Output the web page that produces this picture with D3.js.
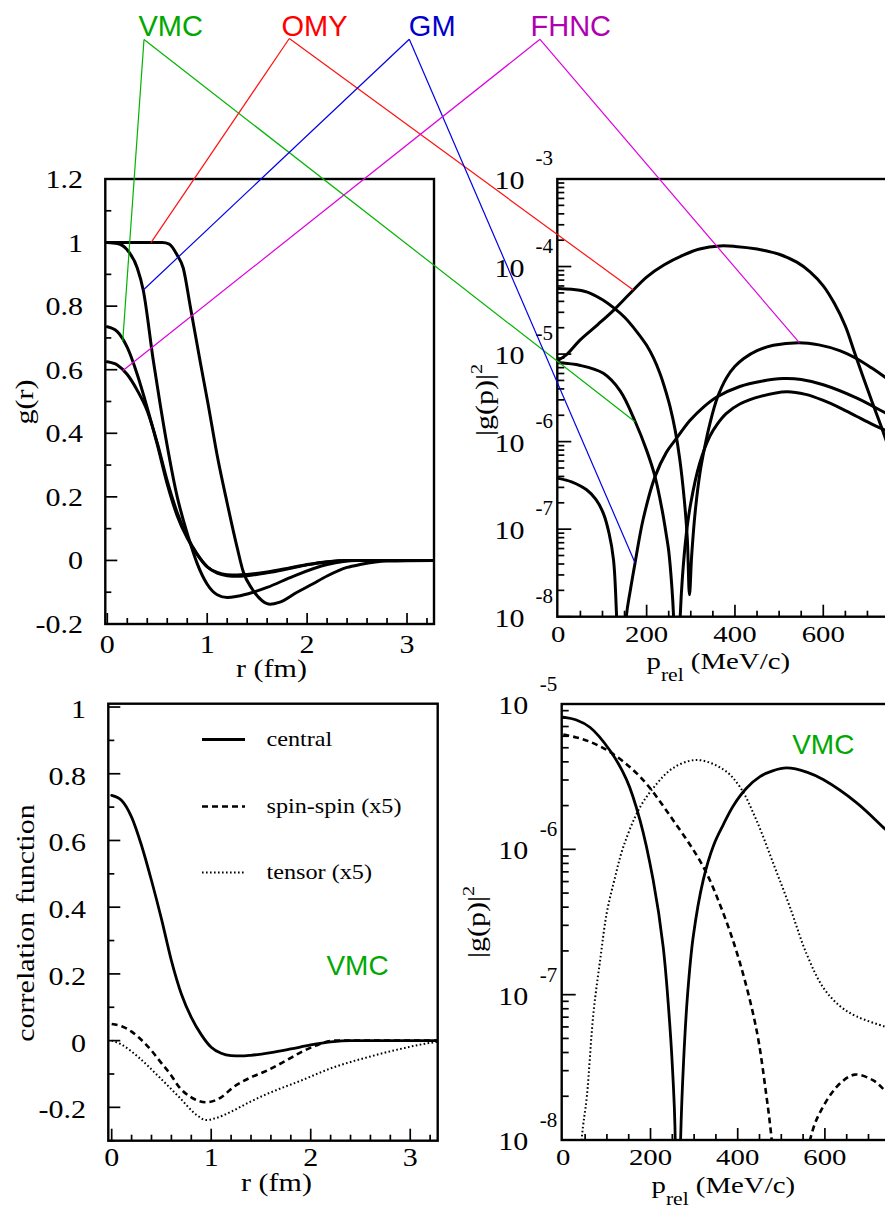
<!DOCTYPE html>
<html>
<head>
<meta charset="utf-8">
<script src="https://cdn.jsdelivr.net/npm/d3@7"></script>
<style>
html, body { margin: 0; padding: 0; background: #fff; }
svg { display: block; }
</style>
</head>
<body>
<svg id="fig" width="885" height="1211"></svg>
<script>
// ---------- g(r): pair correlation functions in coordinate space ----------
const omyR  = [0, 0.3, 0.55, 0.62, 0.7, 0.76, 0.83, 0.93, 1.01, 1.1, 1.2, 1.3, 1.36, 1.45, 1.55, 1.63, 1.72, 1.9, 2.05, 2.2, 2.4, 2.53, 2.8, 3.3];
const omyG  = [1, 1, 1, 0.995, 0.96, 0.92, 0.8, 0.625, 0.49, 0.33, 0.18, 0.04, -0.035, -0.09, -0.127, -0.138, -0.132, -0.1, -0.075, -0.049, -0.022, -0.013, -0.002, 0];
const gmR   = [0, 0.1, 0.2, 0.3, 0.36, 0.46, 0.53, 0.6, 0.7, 0.8, 0.9, 1.0, 1.1, 1.2, 1.3, 1.46, 1.6, 1.86, 2.2, 2.5, 3.3];
const gmG   = [1, 0.997, 0.977, 0.92, 0.85, 0.63, 0.49, 0.36, 0.2, 0.085, -0.01, -0.075, -0.108, -0.117, -0.113, -0.1, -0.085, -0.05, -0.013, 0, 0];
const vmcR  = [0, 0.1, 0.2, 0.3, 0.4, 0.5, 0.6, 0.7, 0.8, 0.9, 1.0, 1.1, 1.2, 1.3, 1.4, 1.6, 1.8, 2.0, 2.2, 2.4, 2.6, 3.3];
const vmcG  = [0.735, 0.72, 0.67, 0.585, 0.48, 0.365, 0.24, 0.14, 0.07, 0.018, -0.02, -0.038, -0.045, -0.046, -0.044, -0.036, -0.025, -0.013, -0.004, 0, 0, 0];
const fhncR = [0, 0.1, 0.2, 0.3, 0.4, 0.5, 0.6, 0.7, 0.8, 0.9, 1.0, 1.1, 1.2, 1.3, 1.4, 1.6, 1.8, 2.0, 2.2, 2.4, 3.3];
const fhncG = [0.625, 0.615, 0.585, 0.535, 0.47, 0.37, 0.25, 0.15, 0.075, 0.02, -0.02, -0.04, -0.048, -0.05, -0.048, -0.039, -0.027, -0.014, -0.005, 0, 0];

// VMC spin-spin and tensor correlations (scaled x5)
const spinR   = [0, 0.1, 0.2, 0.27, 0.4, 0.48, 0.6, 0.68, 0.8, 0.95, 1.1, 1.22, 1.4, 1.56, 1.75, 1.9, 2.05, 2.23, 2.5, 3.3];
const spinG   = [0.05, 0.043, 0.027, 0.01, -0.03, -0.06, -0.105, -0.14, -0.17, -0.185, -0.17, -0.14, -0.11, -0.09, -0.06, -0.035, -0.015, 0, 0, 0];
const tensorR = [0, 0.1, 0.27, 0.48, 0.68, 0.85, 0.95, 1.05, 1.22, 1.4, 1.56, 1.9, 2.23, 2.57, 2.9, 3.24, 3.3];
const tensorG = [0, -0.012, -0.05, -0.11, -0.17, -0.222, -0.238, -0.232, -0.21, -0.182, -0.16, -0.12, -0.08, -0.05, -0.025, -0.005, -0.003];

// ---------- |g(p)|^2 in momentum space, stored as log10 values ----------
const omyP    = [0, 20, 49, 90, 125, 160, 200, 240, 283, 320, 366, 400, 450, 500, 540, 570, 600, 625, 650, 670, 690, 710, 730, 750, 770];
const omyLog  = [-5.07, -5.0, -4.84, -4.66, -4.50, -4.32, -4.12, -3.98, -3.87, -3.80, -3.765, -3.77, -3.80, -3.86, -3.95, -4.06, -4.22, -4.42, -4.68, -4.97, -5.26, -5.54, -5.81, -6.1, -6.4];
const fhncP   = [0, 30, 64, 100, 125, 150, 177, 200, 216, 230, 240, 253, 265, 275, 285, 292, 297, 302, 310, 321, 332, 343, 360, 381, 400, 420, 450, 487, 545, 590, 637, 675, 710, 740, 760];
const fhncLog = [-4.25, -4.26, -4.29, -4.38, -4.47, -4.58, -4.74, -4.90, -5.05, -5.22, -5.37, -5.6, -5.88, -6.2, -6.65, -7.1, -7.75, -7.3, -6.8, -6.35, -6.05, -5.80, -5.50, -5.27, -5.14, -5.05, -4.96, -4.90, -4.87, -4.895, -4.96, -5.05, -5.16, -5.265, -5.34];
const vmcP    = [0, 50, 102, 140, 174, 200, 219, 235, 245, 250, 257, 261, 268, 276, 281, 290, 300, 320, 343, 360, 380, 411, 460, 517, 560, 600, 640, 675, 710, 740, 760];
const vmcLog  = [-5.1, -5.13, -5.22, -5.42, -5.77, -6.1, -6.4, -6.78, -7.08, -7.25, -7.65, -8.0, -9.5, -8.0, -7.55, -7.05, -6.7, -6.25, -5.94, -5.8, -5.68, -5.57, -5.48, -5.43, -5.46, -5.53, -5.62, -5.71, -5.8, -5.87, -5.92];
const gmP     = [0, 30, 64, 85, 102, 115, 125, 132, 143, 154, 163, 174, 192, 219, 245, 268, 298, 330, 359, 411, 460, 509, 550, 600, 675, 740, 760];
const gmLog   = [-6.42, -6.46, -6.55, -6.66, -6.82, -7.05, -7.35, -8.0, -9.5, -8.0, -7.7, -7.38, -6.89, -6.40, -6.12, -5.96, -5.76, -5.6, -5.49, -5.37, -5.31, -5.28, -5.29, -5.35, -5.50, -5.67, -5.72];

// VMC components in momentum space (log10)
const centralP   = [0, 30, 61, 107, 145, 176, 206, 229, 245, 252, 256, 262, 269, 276, 285, 298, 321, 345, 367, 390, 420, 451, 480, 512, 560, 596, 673, 738, 760];
const centralLog = [-5.09, -5.11, -5.16, -5.32, -5.52, -5.80, -6.21, -6.67, -7.24, -7.6, -7.9, -9.5, -8.0, -7.45, -7.0, -6.6, -6.21, -5.97, -5.83, -5.7, -5.58, -5.5, -5.46, -5.44, -5.47, -5.52, -5.68, -5.86, -5.92];
const spinP      = [0, 30, 61, 107, 176, 252, 321, 367, 405, 443, 466, 478, 522, 566, 596, 635, 669, 711, 738, 760];
const spinLog    = [-5.21, -5.23, -5.26, -5.33, -5.50, -5.80, -6.12, -6.44, -6.78, -7.24, -7.70, -8.0, -9.5, -8.0, -7.77, -7.61, -7.55, -7.59, -7.66, -7.72];
const tensorP    = [0, 30, 42, 54, 69, 85, 99.5, 118, 138, 176, 214, 252, 306, 367, 405, 443, 482, 520, 558, 596, 635, 673, 738, 760];
const tensorLog  = [-11, -8.9, -8.0, -7.70, -7.13, -6.75, -6.44, -6.2, -5.98, -5.71, -5.55, -5.44, -5.385, -5.45, -5.57, -5.80, -6.10, -6.40, -6.72, -6.95, -7.08, -7.15, -7.22, -7.24];

// axis tick labels
const gTickLabels    = ["1.2", "1", "0.8", "0.6", "0.4", "0.2", "0", "-0.2"];
const gTickValues    = [1.2, 1, 0.8, 0.6, 0.4, 0.2, 0, -0.2];
const corrTickLabels = ["1", "0.8", "0.6", "0.4", "0.2", "0", "-0.2"];
const corrTickValues = [1, 0.8, 0.6, 0.4, 0.2, 0, -0.2];
const rTickValues    = [0, 1, 2, 3];
const pTickValues    = [0, 200, 400, 600];
const topDecades     = [-3, -4, -5, -6, -7, -8];
const botDecades     = [-5, -6, -7, -8];

// method names and colours
const methods = ["VMC", "OMY", "GM", "FHNC"];
const methodText = { VMC: "#00a800", OMY: "#ff0000", GM: "#0000cc", FHNC: "#b000b0" };
const methodLine = { VMC: "#00b400", OMY: "#ff1010", GM: "#0000e6", FHNC: "#dd00dd" };

// ---------- drawing ----------
const svg = d3.select("#fig");
const SERIF = "'Liberation Serif','Times New Roman',Times,serif";
const SANS = "'Liberation Sans',Arial,Helvetica,sans-serif";
const SX = 1.2;

function serif(parent, x, y, size, anchor, rot, sx) {
  const s = sx === undefined ? SX : sx;
  return parent.append("text")
    .attr("transform", `translate(${x},${y})` + (rot ? ` rotate(${rot})` : "") + ` scale(${s},1)`)
    .attr("font-family", SERIF)
    .attr("font-size", size)
    .attr("text-anchor", anchor)
    .attr("fill", "#000");
}

function frame(g, x0, y0, x1, y1, id) {
  svg.append("clipPath").attr("id", id)
    .append("rect").attr("x", x0).attr("y", y0).attr("width", x1 - x0).attr("height", y1 - y0);
  g.append("rect").attr("x", x0).attr("y", y0).attr("width", x1 - x0).attr("height", y1 - y0)
    .attr("fill", "none").attr("stroke", "#000").attr("stroke-width", 2.4);
}

function ticksX(g, x, yb, vals, isMajor, lMaj, lMin) {
  g.append("g").selectAll("line").data(vals).join("line")
    .attr("x1", d => x(d)).attr("x2", d => x(d))
    .attr("y1", yb).attr("y2", d => yb - (isMajor(d) ? lMaj : lMin))
    .attr("stroke", "#000").attr("stroke-width", 1.7);
}
function ticksY(g, y, xl, vals, isMajor, lMaj, lMin) {
  g.append("g").selectAll("line").data(vals).join("line")
    .attr("y1", d => y(d)).attr("y2", d => y(d))
    .attr("x1", xl).attr("x2", d => xl + (isMajor(d) ? lMaj : lMin))
    .attr("stroke", "#000").attr("stroke-width", 1.7);
}
const near = (a, b) => Math.abs(a - b) < 1e-6;

function curve(g, clipId, x, y, xs, ys, style, interp) {
  const line = d3.line().x(d => x(d[0])).y(d => y(d[1])).curve(interp || d3.curveMonotoneX);
  const p = g.append("path")
    .attr("clip-path", `url(#${clipId})`)
    .attr("d", line(d3.zip(xs, ys)))
    .attr("fill", "none").attr("stroke", "#000")
    .attr("stroke-width", style.w).attr("stroke-linejoin", "round").attr("stroke-linecap", "round");
  if (style.dash) p.attr("stroke-dasharray", style.dash).attr("stroke-linecap", style.cap || "butt");
  return p;
}
const smooth = d3.curveCatmullRom.alpha(0.5);

// ===== Panel 1: g(r) =====
{
  const g = svg.append("g");
  const x = d3.scaleLinear([-0.02, 3.27], [105.3, 434]);
  const y = d3.scaleLinear([-0.2, 1.2], [624, 179]);
  frame(g, 105.3, 179, 434, 624, "c1");
  ticksX(g, x, 624, d3.range(0, 3.21, 0.2), d => near(d, Math.round(d)), 11, 6);
  ticksY(g, y, 105.3, d3.range(-0.2, 1.21, 0.1), d => near(d * 5, Math.round(d * 5)), 12, 6);
  gTickValues.forEach((v, i) => serif(g, 83, y(v) + 9, 25, "end").text(gTickLabels[i]));
  rTickValues.forEach(v => serif(g, x(v), 653, 25, "middle").text(v));
  serif(g, 271.5, 677, 25, "middle").text("r (fm)");
  serif(g, 33, 402, 25, "middle", -90).text("g(r)");
  const st = { w: 3 };
  curve(g, "c1", x, y, omyR, omyG, st);
  curve(g, "c1", x, y, gmR, gmG, st);
  curve(g, "c1", x, y, vmcR, vmcG, st);
  curve(g, "c1", x, y, fhncR, fhncG, st);
}

// ===== Panel 2: |g(p)|^2 for the four methods =====
{
  const g = svg.append("g");
  const x = d3.scaleLinear([-2.3, 800], [557.3, 911.6]);
  const y = d3.scaleLog([1e-8, 1e-3], [616.7, 179]);
  frame(g, 557.3, 179, 911.6, 616.7, "c2");
  ticksX(g, x, 616.7, d3.range(50, 800, 50), d => d % 200 === 0, 12, 6);
  const logVals = [];
  for (let e = -8; e < -3; e++) for (let k = 1; k <= 9; k++) logVals.push(k * Math.pow(10, e));
  logVals.push(1e-3);
  ticksY(g, y, 557.3, logVals, d => near(Math.log10(d), Math.round(Math.log10(d))), 14, 7);
  topDecades.forEach(e => {
    serif(g, 524.5, y(Math.pow(10, e)) + 10, 25, "end").text("10");
    serif(g, 535.5, y(Math.pow(10, e)) - 14, 20, "start", 0, 1.05).text(String(e));
  });
  pTickValues.forEach(v => serif(g, x(v), 642, 24, "middle").text(v));
  const t = serif(g, 646.5, 669, 24, "start");
  t.append("tspan").text("p");
  t.append("tspan").attr("font-size", 18).attr("dy", 12).text("rel");
  t.append("tspan").attr("dy", -12).text(" (MeV/c)");
  const yl = serif(g, 493, 400, 25, "middle", -90);
  yl.append("tspan").text("|g(p)|");
  yl.append("tspan").attr("font-size", 17).attr("dy", -11).text("2");
  const st = { w: 3 };
  const ly = d => y(Math.pow(10, d));
  curve(g, "c2", x, ly, omyP, omyLog, st, smooth);
  curve(g, "c2", x, ly, fhncP, fhncLog, st, smooth);
  curve(g, "c2", x, ly, vmcP, vmcLog, st, smooth);
  curve(g, "c2", x, ly, gmP, gmLog, st, smooth);
}

// ===== Panel 3: VMC correlation components in r =====
{
  const g = svg.append("g");
  const x = d3.scaleLinear([-0.034, 3.276], [108.3, 437.7]);
  const y = d3.scaleLinear([-0.3, 1.01], [1140.7, 703.7]);
  frame(g, 108.3, 703.7, 437.7, 1140.7, "c3");
  ticksX(g, x, 1140.7, d3.range(0, 3.21, 0.2), d => near(d, Math.round(d)), 12, 6);
  ticksY(g, y, 108.3, d3.range(-0.3, 1.01, 0.1), d => near(d * 5, Math.round(d * 5)), 12, 6);
  corrTickValues.forEach((v, i) => serif(g, 86, y(v) + 11, 25, "end").text(corrTickLabels[i]));
  rTickValues.forEach(v => serif(g, x(v), 1166, 25, "middle").text(v));
  serif(g, 276.5, 1191, 25, "middle").text("r (fm)");
  serif(g, 34, 923, 25, "middle", -90).text("correlation function");
  curve(g, "c3", x, y, tensorR, tensorG, { w: 2, dash: "1.6,2.4" });
  curve(g, "c3", x, y, spinR, spinG, { w: 2.6, dash: "6,4" });
  curve(g, "c3", x, y, vmcR, vmcG, { w: 2.8 });
  // legend
  const leg = [
    { name: "central", y: 739.5, w: 2.8, dash: null },
    { name: "spin-spin (x5)", y: 806.5, w: 2.6, dash: "6,4" },
    { name: "tensor (x5)", y: 872.5, w: 2, dash: "1.6,2.4" }
  ];
  leg.forEach(l => {
    const ln = g.append("line").attr("x1", 202).attr("x2", 245).attr("y1", l.y).attr("y2", l.y)
      .attr("stroke", "#000").attr("stroke-width", l.w);
    if (l.dash) ln.attr("stroke-dasharray", l.dash);
    serif(g, 266.5, l.y + 6, 22, "start", 0, 1.1).text(l.name);
  });
  g.append("text").attr("x", 357.5).attr("y", 975).attr("text-anchor", "middle")
    .attr("font-family", SANS).attr("font-size", 28).attr("fill", methodText.VMC).text("VMC");
}

// ===== Panel 4: VMC components in momentum space =====
{
  const g = svg.append("g");
  const x = d3.scaleLinear([-3.7, 800], [561.7, 912.1]);
  const y = d3.scaleLog([1e-8, 1e-5], [1140, 704]);
  frame(g, 561.7, 704, 912.1, 1140, "c4");
  ticksX(g, x, 1140, d3.range(50, 800, 50), d => d % 200 === 0, 12, 6);
  const logVals = [];
  for (let e = -8; e < -5; e++) for (let k = 1; k <= 9; k++) logVals.push(k * Math.pow(10, e));
  logVals.push(1e-5);
  ticksY(g, y, 561.7, logVals, d => near(Math.log10(d), Math.round(Math.log10(d))), 14, 7);
  botDecades.forEach(e => {
    serif(g, 528.3, y(Math.pow(10, e)) + 10, 25, "end").text("10");
    serif(g, 539.7, y(Math.pow(10, e)) - 13, 20, "start", 0, 1.05).text(String(e));
  });
  pTickValues.forEach(v => serif(g, x(v), 1165, 24, "middle").text(v));
  const t = serif(g, 651.5, 1193, 24, "start");
  t.append("tspan").text("p");
  t.append("tspan").attr("font-size", 18).attr("dy", 12).text("rel");
  t.append("tspan").attr("dy", -12).text(" (MeV/c)");
  const yl = serif(g, 485, 922, 25, "middle", -90);
  yl.append("tspan").text("|g(p)|");
  yl.append("tspan").attr("font-size", 17).attr("dy", -11).text("2");
  const ly = d => y(Math.pow(10, d));
  curve(g, "c4", x, ly, tensorP, tensorLog, { w: 2, dash: "1.6,2.4" }, smooth);
  curve(g, "c4", x, ly, spinP, spinLog, { w: 2.6, dash: "6,4" }, smooth);
  curve(g, "c4", x, ly, centralP, centralLog, { w: 2.8 }, smooth);
  g.append("text").attr("x", 823.3).attr("y", 753.5).attr("text-anchor", "middle")
    .attr("font-family", SANS).attr("font-size", 28).attr("fill", methodText.VMC).text("VMC");
}

// ===== Method labels with leader lines to their curves =====
const labelX = { VMC: 170.7, OMY: 314.5, GM: 432.2, FHNC: 570.8 };
const apex   = { VMC: [144, 39.5], OMY: [289.3, 38.5], GM: [409.3, 39.3], FHNC: [540, 39.3] };
const targets = {
  VMC:  [[122.7, 341.7], [635, 421.7]],
  OMY:  [[151, 242.7], [633.3, 290]],
  GM:   [[143.3, 290], [635, 562.7]],
  FHNC: [[122.7, 370.7], [799.3, 342.7]]
};
const lead = svg.append("g");
methods.forEach(m => {
  targets[m].forEach(t => {
    lead.append("line")
      .attr("x1", apex[m][0]).attr("y1", apex[m][1])
      .attr("x2", t[0]).attr("y2", t[1])
      .attr("stroke", methodLine[m]).attr("stroke-width", 1.2);
  });
  lead.append("text").attr("x", labelX[m]).attr("y", 35.7).attr("text-anchor", "middle")
    .attr("font-family", SANS).attr("font-size", 29).attr("fill", methodText[m]).text(m);
});
</script>
</body>
</html>
